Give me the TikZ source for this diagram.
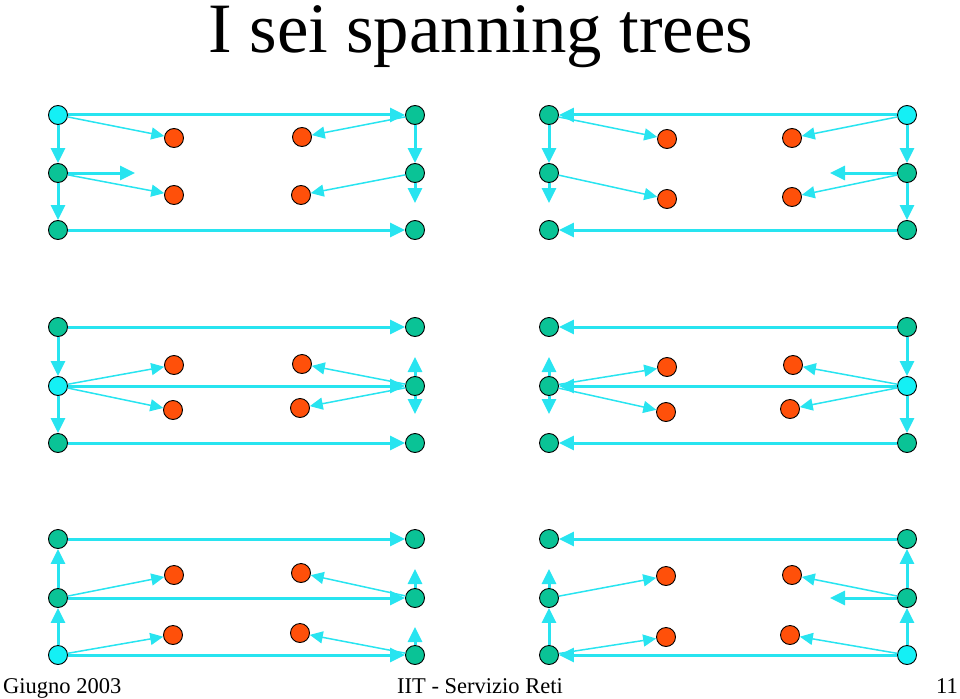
\documentclass[tikz,border=0pt]{standalone}
\usepackage{fontspec}
\setmainfont{Liberation Serif}
\usetikzlibrary{arrows.meta}
\definecolor{edgecol}{RGB}{40,228,240}
\definecolor{rootcol}{RGB}{20,240,245}
\definecolor{greencol}{RGB}{10,195,150}
\definecolor{redcol}{RGB}{255,80,10}
\tikzset{
  gn/.style={circle,draw=black,line width=0.9pt,fill=greencol,minimum size=19pt,inner sep=0pt},
  cn/.style={gn,fill=rootcol},
  rn/.style={gn,fill=redcol},
  tk/.style={draw=edgecol,line width=3pt,-{Triangle[length=15pt,width=14pt]}},
  tn/.style={draw=edgecol,line width=1.5pt,-{Triangle[length=13pt,width=12pt]}},
}
\begin{document}
\begin{tikzpicture}[x=1pt,y=-1pt]
\path[use as bounding box] (0,0) rectangle (960,698);
% titles
\node[anchor=base,inner sep=0pt,font=\fontsize{70.8}{80}\selectfont] (title) at (481,53) {I sei spanning trees};
\node[anchor=base west,inner sep=0pt,font=\fontsize{22.5}{26}\selectfont] (f1) at (3,693) {Giugno 2003};
\node[anchor=base,inner sep=0pt,font=\fontsize{22.5}{26}\selectfont] (f2) at (480,693) {IIT - Servizio Reti};
\node[anchor=base east,inner sep=0pt,font=\fontsize{22.5}{26}\selectfont] (f3) at (958,693) {11};

% ---------- Panel 1 ----------
\node[cn] (atl) at (58,115) {};
\node[gn] (atr) at (415,115) {};
\node[gn] (aml) at (58,173) {};
\node[gn] (amr) at (415,173) {};
\node[gn] (abl) at (58,230) {};
\node[gn] (abr) at (415,230) {};
\node[rn] (aa) at (174,138) {};
\node[rn] (ab) at (302,137) {};
\node[rn] (ac) at (174,195) {};
\node[rn] (ad) at (301,195) {};
\coordinate (as1) at (135,173);
\coordinate (as2) at (415,203);
\draw[tk] (atl) -- (atr);
\draw[tk] (atl) -- (aml);
\draw[tk] (aml) -- (abl);
\draw[tk] (abl) -- (abr);
\draw[tk] (atr) -- (amr);
\draw[tk] (aml) -- (as1);
\draw[tk] (amr) -- (as2);
\draw[tn] (atl) -- (aa);
\draw[tn] (aml) -- (ac);
\draw[tn] (atr) -- (ab);
\draw[tn] (amr) -- (ad);

% ---------- Panel 2 ----------
\node[gn] (btl) at (549,115) {};
\node[cn] (btr) at (907,115) {};
\node[gn] (bml) at (549,173) {};
\node[gn] (bmr) at (907,173) {};
\node[gn] (bbl) at (549,230) {};
\node[gn] (bbr) at (907,230) {};
\node[rn] (ba) at (667,139) {};
\node[rn] (bb) at (792,138) {};
\node[rn] (bc) at (667,199) {};
\node[rn] (bd) at (792,197) {};
\coordinate (bs1) at (549,203);
\coordinate (bs2) at (830,173);
\draw[tk] (btr) -- (btl);
\draw[tk] (btr) -- (bmr);
\draw[tk] (bmr) -- (bbr);
\draw[tk] (bbr) -- (bbl);
\draw[tk] (btl) -- (bml);
\draw[tk] (bml) -- (bs1);
\draw[tk] (bmr) -- (bs2);
\draw[tn] (btl) -- (ba);
\draw[tn] (bml) -- (bc);
\draw[tn] (btr) -- (bb);
\draw[tn] (bmr) -- (bd);

% ---------- Panel 3 ----------
\node[gn] (ctl) at (58,327) {};
\node[gn] (ctr) at (415,327) {};
\node[cn] (cml) at (58,386) {};
\node[gn] (cmr) at (415,386) {};
\node[gn] (cbl) at (58,443) {};
\node[gn] (cbr) at (415,443) {};
\node[rn] (ca) at (174,365) {};
\node[rn] (cb) at (302,364) {};
\node[rn] (cc) at (173,410) {};
\node[rn] (cd) at (300,408) {};
\coordinate (cs1) at (415,357);
\coordinate (cs2) at (415,414);
\draw[tk] (ctl) -- (ctr);
\draw[tk] (ctl) -- (cml);
\draw[tk] (cml) -- (cmr);
\draw[tk] (cml) -- (cbl);
\draw[tk] (cbl) -- (cbr);
\draw[tk] (cmr) -- (cs1);
\draw[tk] (cmr) -- (cs2);
\draw[tn] (cml) -- (ca);
\draw[tn] (cml) -- (cc);
\draw[tn] (cmr) -- (cb);
\draw[tn] (cmr) -- (cd);

% ---------- Panel 4 ----------
\node[gn] (dtl) at (549,327) {};
\node[gn] (dtr) at (907,327) {};
\node[gn] (dml) at (549,386) {};
\node[cn] (dmr) at (907,386) {};
\node[gn] (dbl) at (549,443) {};
\node[gn] (dbr) at (907,443) {};
\node[rn] (da) at (667,367) {};
\node[rn] (db) at (793,365) {};
\node[rn] (dc) at (666,412) {};
\node[rn] (dd) at (790,409) {};
\coordinate (ds1) at (549,357);
\coordinate (ds2) at (549,414);
\draw[tk] (dtr) -- (dtl);
\draw[tk] (dtr) -- (dmr);
\draw[tk] (dmr) -- (dml);
\draw[tk] (dmr) -- (dbr);
\draw[tk] (dbr) -- (dbl);
\draw[tk] (dml) -- (ds1);
\draw[tk] (dml) -- (ds2);
\draw[tn] (dml) -- (da);
\draw[tn] (dml) -- (dc);
\draw[tn] (dmr) -- (db);
\draw[tn] (dmr) -- (dd);

% ---------- Panel 5 ----------
\node[gn] (etl) at (58,539) {};
\node[gn] (etr) at (415,539) {};
\node[gn] (eml) at (58,598) {};
\node[gn] (emr) at (415,598) {};
\node[cn] (ebl) at (58,655) {};
\node[gn] (ebr) at (415,655) {};
\node[rn] (ea) at (174,575) {};
\node[rn] (eb) at (301,573) {};
\node[rn] (ec) at (173,635) {};
\node[rn] (ed) at (300,633) {};
\coordinate (es1) at (415,569);
\coordinate (es2) at (415,627);
\draw[tk] (ebl) -- (eml);
\draw[tk] (eml) -- (etl);
\draw[tk] (etl) -- (etr);
\draw[tk] (eml) -- (emr);
\draw[tk] (ebl) -- (ebr);
\draw[tk] (emr) -- (es1);
\draw[tk] (ebr) -- (es2);
\draw[tn] (eml) -- (ea);
\draw[tn] (ebl) -- (ec);
\draw[tn] (emr) -- (eb);
\draw[tn] (ebr) -- (ed);

% ---------- Panel 6 ----------
\node[gn] (ftl) at (549,539) {};
\node[gn] (ftr) at (907,539) {};
\node[gn] (fml) at (549,598) {};
\node[gn] (fmr) at (907,598) {};
\node[gn] (fbl) at (549,655) {};
\node[cn] (fbr) at (907,655) {};
\node[rn] (fa) at (666,576) {};
\node[rn] (fb) at (792,575) {};
\node[rn] (fc) at (666,637) {};
\node[rn] (fd) at (790,635) {};
\coordinate (fs1) at (549,569);
\coordinate (fs2) at (830,598);
\draw[tk] (ftr) -- (ftl);
\draw[tk] (fbr) -- (fbl);
\draw[tk] (fbr) -- (fmr);
\draw[tk] (fmr) -- (ftr);
\draw[tk] (fbl) -- (fml);
\draw[tk] (fml) -- (fs1);
\draw[tk] (fmr) -- (fs2);
\draw[tn] (fml) -- (fa);
\draw[tn] (fbl) -- (fc);
\draw[tn] (fmr) -- (fb);
\draw[tn] (fbr) -- (fd);
\end{tikzpicture}
\end{document}
